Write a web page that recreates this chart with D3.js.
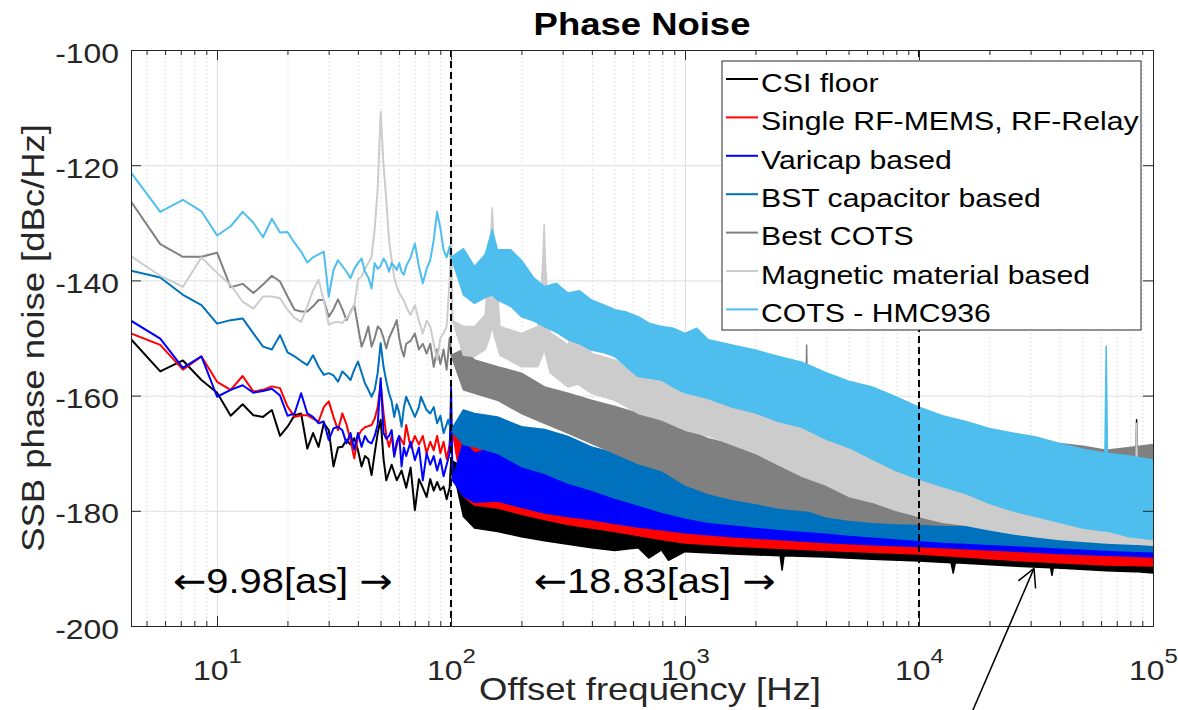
<!DOCTYPE html>
<html>
<head>
<meta charset="utf-8">
<script src="https://cdn.jsdelivr.net/npm/d3@7"></script>
<style>
body { margin: 0; background: #fff; }
svg text { font-family: "Liberation Sans", Arial, Helvetica, sans-serif; }
</style>
</head>
<body>
<div id="chart"></div>
<script>
// Series names / colours (legend order = draw order)
const seriesNames = ["CSI floor", "Single RF-MEMS, RF-Relay", "Varicap based", "BST capacitor based",
    "Best COTS", "Magnetic material based", "COTS - HMC936"];
const seriesColors = ["#000000", "#ff0000", "#0000ff", "#0072bd", "#808080", "#cccccc", "#4dbeee"];

// Axis ticks
const xMajorTicks = [10, 100, 1000, 10000, 100000];
const xMinorTicks = [5, 6, 7, 8, 9, 20, 30, 40, 50, 60, 70, 80, 90, 200, 300, 400, 500, 600, 700, 800, 900,
    2000, 3000, 4000, 5000, 6000, 7000, 8000, 9000, 20000, 30000, 40000, 50000, 60000, 70000, 80000, 90000];
const yTicks = [-200, -180, -160, -140, -120, -100];

// Low-frequency traces [Hz, dBc/Hz]
const csiLow = [[4.29,-150.2],[5.72,-155.8],[7.15,-153.9],[8.58,-157.3],[10.01,-159.5],[11.44,-163.5],[12.87,-161.5],
    [14.30,-163.4],[15.73,-163.7],[17.16,-162.5],[18.59,-167.0],[20.02,-165.4],[21.45,-163.4],[22.88,-163.1],[24.31,-169.2],
    [25.74,-166.5],[27.17,-168.9],[28.60,-164.8],[30.03,-166.0],[31.46,-172.3],[32.89,-169.0],[34.32,-168.9],[35.75,-167.7],
    [37.18,-168.5],[38.61,-167.4],[40.04,-169.5],[41.47,-172.3],[42.90,-170.5],[44.33,-171.0],[45.76,-173.8],[47.19,-170.0],
    [48.62,-166.5],[50.05,-164.2],[51.48,-171.0],[52.91,-174.7],[55.77,-172.0],[58.63,-174.7],[61.49,-173.0],[64.35,-176.0],
    [67.21,-172.5],[70.07,-179.9],[72.93,-174.5],[75.79,-176.0],[78.65,-177.6],[81.51,-174.5],[84.37,-176.5],[87.23,-175.0],
    [90.09,-176.4],[92.95,-175.8],[95.81,-178.0],[98.67,-176.0],[100.1,-171.2]];
const rfLow = [[4.29,-149.2],[5.72,-151.2],[7.15,-155.5],[8.58,-153.2],[10.01,-157.6],[11.44,-159.0],[12.87,-156.6],
    [14.30,-159.3],[15.73,-159.0],[17.16,-158.4],[18.59,-158.7],[20.02,-161.9],[21.45,-163.7],[22.88,-163.4],[24.31,-163.4],
    [25.74,-164.0],[27.17,-164.5],[28.60,-162.0],[30.03,-161.0],[31.46,-163.7],[32.89,-166.0],[34.32,-163.1],[35.75,-165.0],
    [37.18,-167.7],[38.61,-170.9],[40.04,-167.0],[41.47,-166.0],[42.90,-165.5],[44.33,-165.3],[45.76,-165.1],[47.19,-164.0],
    [48.62,-162.0],[50.05,-157.9],[51.48,-163.0],[52.91,-167.0],[54.34,-168.9],[55.77,-167.0],[57.20,-170.3],[60.06,-167.0],
    [62.92,-168.5],[64.35,-165.1],[67.21,-169.0],[70.07,-167.0],[72.93,-168.5],[75.79,-167.0],[78.65,-170.0],[81.51,-168.0],
    [84.37,-169.5],[87.23,-167.0],[90.09,-170.0],[92.95,-168.0],[95.81,-171.0],[98.67,-168.5],[100.1,-165.0]];
const varicapLow = [[4.29,-147.0],[5.72,-150.1],[7.15,-155.2],[8.58,-153.2],[10.01,-160.2],[11.44,-159.0],[12.87,-158.2],
    [14.30,-159.5],[15.73,-159.2],[17.16,-158.8],[18.59,-160.0],[20.02,-163.5],[21.45,-163.1],[22.88,-159.6],[24.31,-163.1],
    [25.74,-163.7],[27.17,-164.8],[28.60,-164.5],[30.03,-167.7],[31.46,-165.7],[32.89,-165.4],[34.32,-166.0],[35.75,-168.3],
    [37.18,-166.5],[38.61,-169.4],[40.04,-166.5],[41.47,-168.9],[42.90,-167.0],[44.33,-168.0],[45.76,-168.3],[47.19,-167.0],
    [48.62,-165.0],[50.05,-157.0],[51.48,-166.5],[52.91,-167.5],[54.34,-167.0],[55.77,-166.0],[57.20,-170.6],[58.63,-168.0],
    [60.06,-167.0],[61.49,-172.3],[62.92,-169.0],[64.35,-170.5],[67.21,-168.0],[70.07,-171.2],[72.93,-169.0],[75.79,-174.7],
    [78.65,-170.0],[81.51,-172.0],[84.37,-170.5],[87.23,-173.0],[90.09,-171.0],[92.95,-174.0],[95.81,-172.0],[98.67,-170.0],
    [100.1,-158.7],[101.5,-174.7]];
const bstLow = [[4.29,-138.3],[5.72,-139.5],[7.15,-142.5],[8.58,-144.3],[10.01,-147.5],[11.44,-146.9],[12.87,-146.6],
    [14.30,-149.2],[15.73,-151.5],[17.16,-152.0],[18.59,-149.5],[20.02,-152.5],[21.45,-153.2],[22.88,-154.0],[24.31,-154.7],
    [25.74,-153.0],[27.17,-155.0],[28.60,-156.4],[30.03,-156.1],[31.46,-156.5],[32.89,-157.6],[34.32,-155.8],[35.75,-156.5],
    [37.18,-157.3],[38.61,-155.5],[40.04,-154.1],[41.47,-156.0],[42.90,-157.9],[44.33,-159.0],[45.76,-160.2],[47.19,-159.0],
    [48.62,-156.0],[50.05,-150.9],[51.48,-155.0],[52.91,-157.5],[54.34,-159.6],[55.77,-161.0],[57.20,-163.7],[58.63,-161.5],
    [60.06,-163.0],[61.49,-165.4],[62.92,-162.0],[64.35,-160.2],[67.21,-162.0],[70.07,-163.7],[72.93,-162.0],[74.36,-160.2],
    [78.65,-162.5],[81.51,-163.1],[84.37,-162.0],[87.23,-164.8],[90.09,-163.5],[92.95,-166.5],[95.81,-165.0],[97.24,-164.2],
    [100.1,-166.0]];
const cotsLow = [[4.29,-126.3],[5.72,-133.7],[7.15,-135.9],[8.58,-135.9],[10.01,-135.2],[11.44,-141.2],[12.87,-140.6],
    [14.30,-142.2],[15.73,-140.7],[17.16,-139.2],[18.59,-140.2],[20.02,-142.8],[21.45,-145.1],[22.88,-145.4],[24.31,-145.4],
    [25.74,-144.5],[27.17,-143.4],[28.60,-143.4],[30.03,-146.3],[31.46,-145.0],[32.89,-143.3],[34.32,-145.0],[35.75,-146.9],
    [37.18,-145.5],[38.61,-144.3],[40.04,-148.0],[41.47,-151.5],[42.90,-150.0],[44.33,-148.0],[45.76,-151.5],[47.19,-150.0],
    [48.62,-148.0],[50.05,-148.5],[51.48,-150.0],[52.91,-151.8],[54.34,-150.0],[55.77,-149.0],[57.20,-148.0],[58.63,-146.9],
    [60.06,-150.0],[61.49,-152.0],[62.92,-153.2],[64.35,-151.0],[67.21,-150.5],[70.07,-149.2],[72.93,-152.0],[75.79,-151.0],
    [78.65,-152.7],[81.51,-151.0],[84.37,-155.0],[87.23,-152.0],[90.09,-154.5],[92.95,-152.0],[95.81,-155.5],[98.67,-150.0],
    [100.1,-153.0]];
const magneticLow = [[4.29,-135.8],[5.72,-139.2],[7.15,-141.1],[8.58,-136.0],[10.01,-138.7],[11.44,-140.8],[12.87,-143.7],
    [14.30,-144.9],[15.73,-142.8],[17.16,-142.8],[18.59,-143.1],[20.02,-145.1],[21.45,-146.5],[22.88,-147.2],[24.31,-144.5],
    [25.74,-141.7],[27.17,-139.9],[28.60,-143.4],[30.03,-147.7],[31.46,-147.3],[32.89,-147.2],[34.32,-147.4],[35.75,-146.5],
    [37.18,-145.7],[38.61,-144.3],[40.04,-139.9],[41.47,-139.3],[42.90,-138.0],[44.33,-137.0],[45.76,-135.9],[47.19,-131.0],
    [48.62,-124.0],[50.05,-110.7],[51.48,-120.0],[52.91,-126.0],[54.34,-133.0],[55.77,-136.5],[57.20,-139.5],[58.63,-141.0],
    [60.06,-142.2],[62.92,-143.5],[64.35,-144.6],[67.21,-146.0],[70.07,-144.3],[72.93,-147.0],[75.79,-149.2],[78.65,-147.0],
    [81.51,-148.0],[84.37,-151.0],[87.23,-153.8],[90.09,-150.0],[92.95,-149.2],[95.81,-148.0],[98.67,-140.0],[100.1,-130.7],
    [101.5,-147.0]];
const hmcLow = [[4.29,-121.3],[5.72,-128.1],[7.15,-126.0],[8.58,-128.0],[10.01,-132.2],[11.44,-130.6],[12.87,-128.1],
    [14.30,-130.0],[15.73,-132.5],[17.16,-129.3],[18.59,-131.7],[20.02,-131.6],[21.45,-133.5],[22.88,-135.0],[24.31,-136.9],
    [25.74,-136.0],[27.17,-135.5],[28.60,-135.0],[30.03,-142.8],[31.46,-138.2],[32.89,-136.5],[34.32,-137.5],[35.75,-138.5],
    [37.18,-139.6],[38.61,-138.0],[40.04,-137.0],[41.47,-136.2],[42.90,-138.5],[44.33,-139.5],[45.76,-141.4],[47.19,-137.0],
    [48.62,-138.0],[50.05,-137.5],[51.48,-136.2],[52.91,-137.0],[54.34,-138.5],[55.77,-137.0],[57.20,-137.5],[58.63,-138.2],
    [60.06,-137.0],[61.49,-138.5],[62.92,-139.0],[64.35,-137.5],[67.21,-136.0],[70.07,-133.6],[72.93,-137.6],[75.79,-140.5],
    [78.65,-138.0],[81.51,-136.5],[84.37,-133.0],[87.23,-128.1],[90.09,-131.0],[92.95,-134.7],[95.81,-136.0],[98.67,-134.1],
    [100.1,-136.0]];

// Dense high-frequency part, read as the trace envelope [Hz, lower dB, upper dB]
const csiBand = [[100.1,-171.2,-171.2],[113,-181.0,-172.5],[126,-183.0,-173.5],[158,-183.6,-174.0],[200,-184.5,-175.2],
    [251,-185.2,-176.4],[316,-185.8,-177.0],[398,-186.4,-178.1],[501,-186.9,-178.5],[631,-186.4,-179.0],[700,-188.2,-179.0],
    [794,-186.8,-179.3],[850,-188.6,-179.3],[1000,-187.1,-179.5],[1585,-187.5,-181.0],[2550,-187.8,-182.0],
    [2600,-190.3,-182.0],[2650,-187.8,-182.0],[3981,-188.0,-183.0],[6310,-188.4,-183.9],[10000,-188.7,-185.0],
    [13700,-189.0,-185.3],[14000,-190.8,-185.3],[14300,-189.0,-185.3],[25119,-189.6,-186.0],[36500,-189.9,-186.0],
    [37000,-191.2,-186.0],[37500,-189.9,-186.0],[63096,-190.4,-186.2],[84000,-190.6,-186.2],[85100,-190.6,-164.2],
    [86200,-190.6,-186.2],[100000,-190.8,-186.2]];
const rfBand = [[100.1,-165.0,-165.0],[113,-177.5,-167.0],[126,-179.0,-168.9],[158,-179.5,-168.9],[200,-180.6,-170.0],
    [251,-181.5,-171.2],[316,-182.4,-172.3],[398,-183.0,-173.2],[501,-183.6,-174.1],[631,-184.3,-174.6],[794,-185.0,-175.2],
    [1000,-185.6,-175.8],[1585,-186.1,-178.0],[2512,-186.5,-179.5],[3981,-186.9,-181.0],[6310,-187.2,-182.5],
    [10000,-187.5,-183.0],[15849,-188.0,-184.0],[25119,-188.6,-184.8],[39811,-189.0,-185.2],[63096,-189.4,-185.5],
    [100000,-189.6,-185.6]];
const varicapBand = [[101.5,-174.7,-174.7],[113,-177.5,-168.0],[126,-178.5,-170.0],[158,-178.3,-168.9],[200,-179.4,-170.0],
    [251,-180.4,-171.2],[316,-181.0,-171.8],[398,-181.5,-172.3],[501,-182.2,-173.5],[631,-182.8,-174.1],[794,-183.3,-174.6],
    [1000,-183.8,-175.2],[1585,-184.5,-176.5],[2512,-185.0,-178.0],[3981,-185.5,-179.0],[6310,-185.9,-180.0],
    [10000,-186.2,-180.5],[15849,-186.6,-181.5],[25119,-187.0,-182.5],[39811,-187.4,-183.0],[63096,-187.7,-183.3],
    [100000,-188.0,-183.5]];
const bstBand = [[100.1,-166.0,-166.0],[113,-168.5,-162.5],[126,-168.9,-163.1],[158,-170.0,-163.7],[200,-172.3,-165.4],
    [251,-173.5,-165.9],[316,-175.2,-167.1],[398,-176.4,-168.9],[501,-177.8,-170.0],[631,-179.0,-170.6],[794,-180.2,-171.2],
    [1000,-181.2,-172.0],[1259,-182.0,-174.1],[1585,-182.4,-174.8],[1995,-182.8,-175.2],[2512,-183.2,-176.4],
    [3162,-183.5,-176.7],[3981,-183.8,-176.9],[5012,-184.2,-178.1],[6310,-184.5,-178.4],[7943,-184.8,-178.7],
    [10000,-185.1,-179.3],[12589,-185.4,-180.2],[15849,-185.6,-181.0],[19953,-185.8,-182.0],[25119,-186.0,-182.5],
    [31623,-186.2,-183.0],[39811,-186.4,-183.5],[50119,-186.6,-184.0],[63096,-186.8,-184.3],[79433,-187.0,-184.6],
    [100000,-187.1,-184.8]];
const cotsBand = [[100.1,-153.0,-153.0],[113,-159.0,-152.0],[126,-159.6,-153.8],[158,-160.8,-155.0],[200,-163.1,-156.1],
    [251,-164.8,-158.5],[316,-166.5,-159.6],[398,-168.3,-160.8],[501,-170.0,-161.9],[631,-171.8,-163.1],[794,-173.0,-164.2],
    [1000,-175.5,-165.8],[1259,-177.0,-167.5],[1585,-178.0,-168.5],[1995,-178.7,-169.4],[2512,-179.5,-170.2],
    [3250,-180.0,-170.8],[3310,-180.0,-151.2],[3370,-180.0,-170.8],[3981,-181.0,-172.3],[5012,-181.6,-173.5],
    [6310,-182.0,-174.5],[7943,-182.2,-175.2],[10000,-182.3,-176.0],[12589,-182.5,-175.0],[15849,-182.5,-173.5],
    [19953,-182.7,-172.0],[25119,-182.8,-170.5],[31623,-183.0,-169.0],[39811,-183.0,-168.3],[50119,-183.0,-168.8],
    [63096,-183.0,-169.5],[79433,-183.0,-169.0],[100000,-183.0,-168.5]];
const magneticBand = [[101.5,-147.0,-147.0],[113,-153.0,-148.0],[126,-153.2,-148.0],[140,-152.0,-146.0],[146,-150.0,-136.0],
    [150,-148.0,-127.4],[154,-150.0,-136.0],[162,-153.0,-148.0],[200,-155.0,-149.2],[235,-155.0,-148.0],[246,-153.0,-138.0],
    [250,-152.0,-130.3],[254,-153.0,-138.0],[265,-156.0,-149.0],[316,-158.5,-151.2],[349,-158.0,-146.3],[398,-159.6,-152.7],
    [501,-160.8,-153.8],[631,-163.1,-156.1],[794,-164.2,-157.3],[1000,-166.0,-158.0],[1259,-167.0,-158.5],
    [1585,-168.5,-159.5],[1995,-170.0,-160.8],[2512,-172.0,-161.5],[3162,-174.0,-162.5],[3981,-175.5,-164.0],
    [5012,-177.5,-166.0],[6310,-178.5,-167.5],[7943,-179.9,-169.4],[10000,-181.0,-171.0],[12589,-182.0,-173.0],
    [15849,-182.5,-175.0],[19953,-183.3,-176.5],[25119,-184.0,-178.0],[31623,-184.5,-179.3],[39811,-185.0,-180.4],
    [50119,-185.3,-181.0],[63096,-185.6,-182.0],[84000,-185.8,-182.5],[85100,-185.8,-164.8],[86200,-185.8,-182.5],
    [100000,-186.0,-183.3]];
const hmcBand = [[100.1,-136.0,-136.0],[113,-142.5,-134.5],[126,-144.0,-137.6],[140,-143.0,-135.5],[150,-142.5,-131.2],
    [158,-143.4,-134.7],[180,-144.5,-134.7],[200,-146.3,-136.5],[225,-147.0,-139.5],[251,-148.0,-141.1],[282,-149.0,-140.5],
    [316,-150.3,-142.2],[355,-151.0,-141.8],[398,-152.1,-143.4],[447,-152.5,-144.2],[501,-153.2,-145.1],[562,-155.0,-145.5],
    [631,-156.7,-146.3],[708,-157.0,-147.5],[794,-157.3,-148.0],[891,-158.5,-148.3],[1000,-159.5,-149.2],
    [1122,-160.0,-148.3],[1259,-160.5,-150.3],[1585,-162.0,-151.2],[1995,-163.0,-152.1],[2512,-164.5,-153.2],
    [3162,-165.5,-154.2],[3981,-167.5,-156.0],[5012,-169.0,-157.5],[6310,-171.0,-158.5],[7943,-173.0,-160.2],
    [10000,-174.5,-162.0],[12589,-175.8,-163.5],[15849,-177.0,-164.5],[19953,-178.7,-165.7],[25119,-180.0,-166.5],
    [31623,-181.0,-167.2],[39811,-182.0,-168.3],[50119,-183.0,-169.3],[62300,-183.5,-170.0],[63096,-183.5,-151.4],
    [63900,-183.5,-170.0],[79433,-184.5,-170.5],[100000,-185.0,-171.2]];

// Annotations
const markerFreqs = [100, 10000];
const jitterNotes = [
    {text: "9.98[as]", f: 19.1, v: -194.3},
    {text: "18.83[as]", f: 741, v: -194.3}
];
const arrowTip = {f: 31000, v: -190.0}, arrowTail = {f: 17000, v: -214.6};

// Set dimensions
const width = 1178,
    height = 710,
    margin = {top: 50, right: 25, bottom: 84, left: 131};
const innerWidth = width - margin.left - margin.right;
const innerHeight = height - margin.top - margin.bottom;
const stretch = 1.14;
const axisColor = "#262626";

const svg = d3.select("#chart")
    .append("svg")
    .attr("width", width)
    .attr("height", height)
    .style("display", "block");

const plot = svg.append("g")
    .attr("transform", `translate(${margin.left},${margin.top})`);

// Scales
const x = d3.scaleLog().domain([4.29, 1e5]).range([0, innerWidth]);
const y = d3.scaleLinear().domain([-200, -100]).range([innerHeight, 0]);

// Grid
plot.append("g")
    .attr("transform", `translate(0,${innerHeight})`)
    .call(d3.axisBottom(x).tickValues(xMinorTicks).tickSize(-innerHeight).tickFormat(""))
    .call(g => g.select(".domain").remove())
    .selectAll("line")
    .attr("stroke", "#cfcfcf")
    .attr("stroke-dasharray", "1,3");

plot.append("g")
    .attr("transform", `translate(0,${innerHeight})`)
    .call(d3.axisBottom(x).tickValues(xMajorTicks).tickSize(-innerHeight).tickFormat(""))
    .call(g => g.select(".domain").remove())
    .selectAll("line")
    .attr("stroke", "#dfdfdf");

plot.append("g")
    .call(d3.axisLeft(y).tickValues(yTicks).tickSize(-innerWidth).tickFormat(""))
    .call(g => g.select(".domain").remove())
    .selectAll("line")
    .attr("stroke", "#dfdfdf");

// Clip
svg.append("defs").append("clipPath")
    .attr("id", "plot-clip")
    .append("rect")
    .attr("width", innerWidth)
    .attr("height", innerHeight);

const series = [
    {low: csiLow, band: csiBand},
    {low: rfLow, band: rfBand},
    {low: varicapLow, band: varicapBand},
    {low: bstLow, band: bstBand},
    {low: cotsLow, band: cotsBand},
    {low: magneticLow, band: magneticBand},
    {low: hmcLow, band: hmcBand}
];

const line = d3.line()
    .x(d => x(d[0]))
    .y(d => y(d[1]));

const area = d3.area()
    .x(d => x(d[0]))
    .y0(d => y(d[1]))
    .y1(d => y(d[2]));

const traces = plot.append("g").attr("clip-path", "url(#plot-clip)");

series.forEach((s, i) => {
    traces.append("path")
        .datum(s.band)
        .attr("d", area)
        .attr("fill", seriesColors[i])
        .attr("stroke", seriesColors[i])
        .attr("stroke-width", 1.5)
        .attr("stroke-linejoin", "round");

    traces.append("path")
        .datum(s.low)
        .attr("d", line)
        .attr("fill", "none")
        .attr("stroke", seriesColors[i])
        .attr("stroke-width", 2)
        .attr("stroke-linejoin", "round");
});

// Dashed markers at 100 Hz and 10 kHz
plot.selectAll(".marker")
    .data(markerFreqs)
    .enter()
    .append("line")
    .attr("class", "marker")
    .attr("x1", d => x(d))
    .attr("x2", d => x(d))
    .attr("y1", y(-100))
    .attr("y2", y(-200))
    .attr("stroke", "#000")
    .attr("stroke-width", 2)
    .attr("stroke-dasharray", "7,4");

// Axes (ticks point inward, MATLAB style)
function styleAxis(g) {
    g.attr("font-family", null).attr("font-size", null);
    g.selectAll("line").attr("stroke", axisColor);
    g.select(".domain").attr("stroke", axisColor);
}

const xAxisBottom = plot.append("g")
    .attr("transform", `translate(0,${innerHeight})`)
    .call(d3.axisBottom(x).tickValues(xMajorTicks).tickSize(-10).tickSizeOuter(0).tickFormat(""))
    .call(styleAxis);

xAxisBottom.selectAll(".tick")
    .append("g")
    .attr("transform", `translate(0,54) scale(${stretch},1)`)
    .append("text")
    .attr("text-anchor", "middle")
    .attr("fill", axisColor)
    .style("font-size", "28px")
    .each(function (d) {
        const t = d3.select(this);
        t.append("tspan").text("10");
        t.append("tspan").attr("dy", -17).style("font-size", "21px").text(Math.round(Math.log10(d)));
    });

plot.append("g")
    .attr("transform", `translate(0,${innerHeight})`)
    .call(d3.axisBottom(x).tickValues(xMinorTicks).tickSize(-5).tickSizeOuter(0).tickFormat(""))
    .call(styleAxis);

plot.append("g")
    .call(d3.axisTop(x).tickValues(xMajorTicks).tickSize(-10).tickSizeOuter(0).tickFormat(""))
    .call(styleAxis);

plot.append("g")
    .call(d3.axisTop(x).tickValues(xMinorTicks).tickSize(-5).tickSizeOuter(0).tickFormat(""))
    .call(styleAxis);

plot.append("g")
    .call(d3.axisLeft(y).tickValues(yTicks).tickSize(-10).tickSizeOuter(0).tickPadding(12)
        .tickFormat(d => d.toString()))
    .call(styleAxis)
    .selectAll("text")
    .attr("x", -12 / stretch)
    .attr("dy", "0.43em")
    .attr("transform", `scale(${stretch},1)`)
    .attr("fill", axisColor)
    .style("font-size", "28px");

plot.append("g")
    .attr("transform", `translate(${innerWidth},0)`)
    .call(d3.axisRight(y).tickValues(yTicks).tickSize(-10).tickSizeOuter(0).tickFormat(""))
    .call(styleAxis);

// Axis labels and title
svg.append("g")
    .attr("transform", `translate(650,700) scale(${stretch},1)`)
    .append("text")
    .attr("text-anchor", "middle")
    .attr("fill", axisColor)
    .style("font-size", "32px")
    .text("Offset frequency [Hz]");

svg.append("g")
    .attr("transform", `translate(44,${margin.top + innerHeight / 2}) rotate(-90) scale(${stretch},1)`)
    .append("text")
    .attr("text-anchor", "middle")
    .attr("fill", axisColor)
    .style("font-size", "32px")
    .text("SSB phase noise [dBc/Hz]");

svg.append("g")
    .attr("transform", `translate(${margin.left + innerWidth / 2},35) scale(${stretch},1)`)
    .append("text")
    .attr("text-anchor", "middle")
    .attr("fill", "#000")
    .style("font-size", "32px")
    .style("font-weight", "bold")
    .text("Phase Noise");

// Jitter annotations with TeX-like arrows
const notes = plot.selectAll(".note")
    .data(jitterNotes)
    .enter()
    .append("g")
    .attr("class", "note")
    .attr("transform", d => `translate(${x(d.f)},${y(d.v)}) scale(${stretch},1)`)
    .append("text")
    .attr("text-anchor", "middle")
    .attr("fill", "#000")
    .style("font-size", "35px");

notes.append("tspan").style("font-family", "'DejaVu Sans'").text("\u2190");
notes.append("tspan").text(d => d.text + " ");
notes.append("tspan").style("font-family", "'DejaVu Sans'").text("\u2192");

// Arrow pointing at the noise floor
const tipX = x(arrowTip.f), tipY = y(arrowTip.v);
const tailX = x(arrowTail.f), tailY = y(arrowTail.v);
const ang = Math.atan2(tailY - tipY, tailX - tipX);
const barb = 20, spread = 28 * Math.PI / 180;

plot.append("line")
    .attr("x1", tailX).attr("y1", tailY)
    .attr("x2", tipX).attr("y2", tipY)
    .attr("stroke", "#000")
    .attr("stroke-width", 1.5);

plot.append("path")
    .attr("d", `M${tipX + barb * Math.cos(ang + spread)},${tipY + barb * Math.sin(ang + spread)}` +
        `L${tipX},${tipY}` +
        `L${tipX + barb * Math.cos(ang - spread)},${tipY + barb * Math.sin(ang - spread)}`)
    .attr("fill", "none")
    .attr("stroke", "#000")
    .attr("stroke-width", 1.5);

// Legend
const legend = svg.append("g")
    .attr("transform", "translate(722,61)");

legend.append("rect")
    .attr("width", 419)
    .attr("height", 269)
    .attr("fill", "#fff")
    .attr("stroke", axisColor)
    .attr("stroke-width", 1);

const legendItems = legend.selectAll(".legend-item")
    .data(seriesNames)
    .enter()
    .append("g")
    .attr("class", "legend-item")
    .attr("transform", (d, i) => `translate(0,${18 + i * 38.4})`);

legendItems.append("line")
    .attr("x1", 4)
    .attr("x2", 36)
    .attr("stroke", (d, i) => seriesColors[i])
    .attr("stroke-width", 2);

legendItems.append("g")
    .attr("transform", `translate(39,12.7) scale(${stretch},1)`)
    .append("text")
    .attr("fill", "#000")
    .style("font-size", "26.5px")
    .text(d => d);
</script>
</body>
</html>
